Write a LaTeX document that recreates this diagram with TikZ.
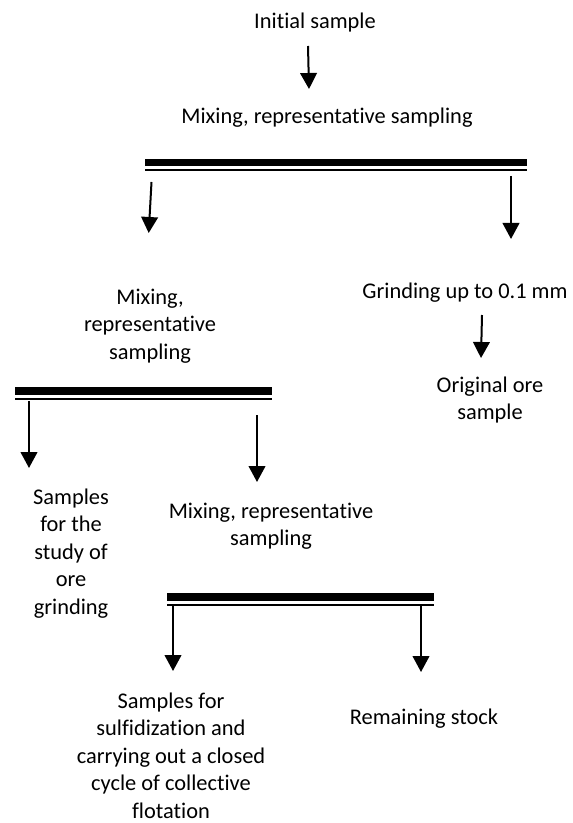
\documentclass[tikz,border=0pt]{standalone}
\usepackage{fontspec}
\setmainfont{Carlito}[Ligatures=NoCommon]
\usetikzlibrary{arrows.meta}
\tikzset{
  flowtext/.style={inner sep=0pt,align=center,font=\fontsize{16.8}{20.6}\selectfont},
  flowarrow/.style={line width=1.5pt,-{Triangle[width=12.5pt,length=12pt]}},
}

\begin{document}
\begin{tikzpicture}[x=0.75pt,y=-0.75pt]
\path[use as bounding box] (0,0) rectangle (573,823);
% texts
\node[flowtext,anchor=base] (init) at (315,29) {Initial sample};
\node[flowtext,anchor=base] (mixa) at (327,124) {Mixing, representative sampling};
\node[flowtext] (mixb) at (150,326) {Mixing,\\representative\\sampling};
\node[flowtext,anchor=base] (grind) at (465,298) {Grinding up to 0.1 mm};
\node[flowtext] (orig) at (490,400) {Original ore\\sample};
\node[flowtext] (study) at (71,553.5) {Samples\\for the\\study of\\ore\\grinding};
\node[flowtext] (mixc) at (271,526) {Mixing, representative\\sampling};
\node[flowtext] (flot) at (171,755.5) {Samples for\\sulfidization and\\carrying out a closed\\cycle of collective\\flotation};
\node[flowtext,anchor=base] (remain) at (424,724) {Remaining stock};
% bars
\fill (145,159) rectangle (527,166.5);
\fill (145,169.5) rectangle (527,171.5);
\fill (15,387) rectangle (272,394.5);
\fill (15,397.5) rectangle (272,399.5);
\fill (167,593) rectangle (434,600.5);
\fill (167,603.5) rectangle (434,605.5);
% arrow ends
\coordinate (ainit) at (308,46);   \coordinate (amixa) at (309,89);
\coordinate (abarl) at (151.5,182); \coordinate (amixb) at (148.7,233);
\coordinate (abarr) at (511,176);  \coordinate (agrind) at (511,239);
\coordinate (agrfrom) at (482,315); \coordinate (aorig) at (481,358);
\coordinate (abbl) at (29,401);    \coordinate (astudy) at (29,468);
\coordinate (abbr) at (257,415);   \coordinate (amixc) at (257,482);
\coordinate (acbl) at (173,604);   \coordinate (aflot) at (173,671);
\coordinate (acbr) at (421,606);   \coordinate (aremain) at (421,672);
\draw[flowarrow] (ainit) -- (amixa);
\draw[flowarrow] (abarl) -- (amixb);
\draw[flowarrow] (abarr) -- (agrind);
\draw[flowarrow] (agrfrom) -- (aorig);
\draw[flowarrow] (abbl) -- (astudy);
\draw[flowarrow] (abbr) -- (amixc);
\draw[flowarrow] (acbl) -- (aflot);
\draw[flowarrow] (acbr) -- (aremain);
\end{tikzpicture}
\end{document}
